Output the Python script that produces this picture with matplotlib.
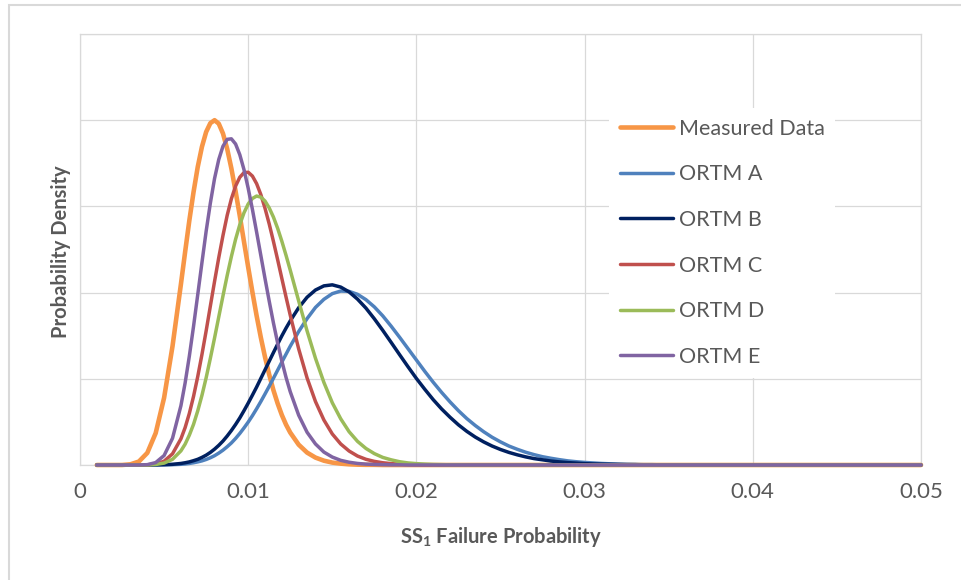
import matplotlib
matplotlib.use("Agg")
import matplotlib.pyplot as plt
from matplotlib.patches import Rectangle

plt.rcParams['font.family'] = ['Lato', 'DejaVu Sans']
plt.rcParams['mathtext.fontset'] = 'custom'
plt.rcParams['mathtext.rm'] = 'Lato'
plt.rcParams['mathtext.bf'] = 'Lato:bold'

# Failure probability grid shared by every series (finer around the peaks)
x = [0.0010, 0.0015, 0.0020, 0.0025, 0.0030, 0.0035, 0.0040, 0.0045, 0.0050, 0.0055, 0.0060,
     0.00625, 0.00650, 0.00675, 0.00700, 0.00725, 0.00750, 0.00775, 0.00800, 0.00825, 0.00850, 0.00875, 0.00900, 0.00925,
     0.00950, 0.00975, 0.01000, 0.01025, 0.01050, 0.01075, 0.01100, 0.01125, 0.01150, 0.01175, 0.01200, 0.01225, 0.01250,
     0.0130, 0.0135, 0.0140, 0.0145, 0.0150, 0.0155, 0.0160, 0.0165, 0.0170, 0.0175,
     0.0180, 0.0185, 0.0190, 0.0195, 0.0200, 0.0205, 0.0210, 0.0215, 0.0220, 0.0225,
     0.0230, 0.0235, 0.0240, 0.0245, 0.0250, 0.0255, 0.0260, 0.0265, 0.0270, 0.0275,
     0.0280, 0.0285, 0.0290, 0.0295, 0.0300, 0.0305, 0.0310, 0.0315, 0.0320, 0.0325,
     0.0330, 0.0335, 0.0340, 0.0345, 0.0350, 0.0355, 0.0360, 0.0365, 0.0370, 0.0375,
     0.0380, 0.0385, 0.0390, 0.0395, 0.0400, 0.0405, 0.0410, 0.0415, 0.0420, 0.0425,
     0.0430, 0.0435, 0.0440, 0.0445, 0.0450, 0.0455, 0.0460, 0.0465, 0.0470, 0.0475,
     0.0480, 0.0485, 0.0490, 0.0495, 0.0500]

measured = [0, 0, 0, 0, 0.4, 2.0, 7.0, 18.5, 39.0, 68.9, 104.9,
            123.6, 141.8, 158.3, 172.9, 184.6, 193.2, 198.3, 200.0, 198.0, 192.3, 183.4, 172.0, 158.8,
            144.5, 129.5, 114.7, 100.3, 86.6, 74.0, 62.6, 52.4, 43.4, 35.7, 29.0, 23.4, 18.8,
            11.8, 7.2, 4.3, 2.5, 1.4, 0.8, 0.4, 0.2, 0.1, 0.1,
            0, 0, 0, 0, 0, 0, 0, 0, 0, 0,
            0, 0, 0, 0, 0, 0, 0, 0, 0, 0,
            0, 0, 0, 0, 0, 0, 0, 0, 0, 0,
            0, 0, 0, 0, 0, 0, 0, 0, 0, 0,
            0, 0, 0, 0, 0, 0, 0, 0, 0, 0,
            0, 0, 0, 0, 0, 0, 0, 0, 0, 0,
            0, 0, 0, 0, 0]

ortm_a = [0, 0, 0, 0, 0, 0, 0, 0, 0.1, 0.2, 0.4,
          0.6, 0.9, 1.3, 1.8, 2.4, 3.2, 4.2, 5.4, 6.9, 8.6, 10.6, 12.8, 15.4,
          18.3, 21.5, 24.9, 28.6, 32.6, 36.8, 41.2, 45.7, 50.3, 55.0, 59.7, 64.3, 68.9,
          77.4, 84.9, 91.4, 96.1, 99.4, 100.9, 100.7, 99.0, 95.9, 91.7,
          86.5, 80.5, 74.1, 67.5, 60.9, 54.3, 48.0, 42.1, 36.6, 31.5,
          26.9, 22.9, 19.3, 16.1, 13.4, 11.0, 9.1, 7.4, 6.0, 4.8,
          3.9, 3.1, 2.4, 1.9, 1.5, 1.2, 0.9, 0.7, 0.5, 0.4,
          0.3, 0.2, 0.2, 0.1, 0.1, 0.1, 0, 0, 0, 0,
          0, 0, 0, 0, 0, 0, 0, 0, 0, 0,
          0, 0, 0, 0, 0, 0, 0, 0, 0, 0,
          0, 0, 0, 0, 0]

ortm_b = [0, 0, 0, 0, 0, 0, 0, 0.1, 0.2, 0.4, 0.9,
          1.3, 1.8, 2.5, 3.3, 4.4, 5.7, 7.3, 9.2, 11.4, 13.9, 16.8, 20.0, 23.5,
          27.3, 31.5, 35.9, 40.5, 45.2, 50.2, 55.2, 60.2, 65.2, 70.1, 74.9, 79.4, 83.6,
          91.2, 97.3, 101.5, 103.9, 104.5, 103.2, 100.4, 96.2, 91.0, 84.8,
          78.1, 71.1, 64.0, 57.0, 50.2, 43.9, 37.9, 32.5, 27.7, 23.3,
          19.5, 16.2, 13.4, 11.0, 9.0, 7.3, 5.9, 4.7, 3.7, 3.0,
          2.3, 1.8, 1.4, 1.1, 0.8, 0.6, 0.5, 0.4, 0.3, 0.2,
          0.2, 0.1, 0.1, 0, 0, 0, 0, 0, 0, 0,
          0, 0, 0, 0, 0, 0, 0, 0, 0, 0,
          0, 0, 0, 0, 0, 0, 0, 0, 0, 0,
          0, 0, 0, 0, 0]

ortm_c = [0, 0, 0, 0, 0, 0, 0.1, 0.6, 2.2, 6.5, 15.2,
          21.7, 29.9, 39.8, 51.3, 64.1, 77.8, 92.2, 106.5, 120.3, 133.1, 144.8, 154.4, 161.8,
          166.9, 169.6, 169.8, 167.6, 163.2, 156.9, 148.9, 139.8, 129.7, 119.1, 108.2, 97.4, 86.9,
          67.4, 50.5, 36.8, 26.1, 18.0, 12.2, 8.1, 5.2, 3.3, 2.1,
          1.3, 0.8, 0.5, 0.3, 0.2, 0.1, 0.1, 0, 0, 0,
          0, 0, 0, 0, 0, 0, 0, 0, 0, 0,
          0, 0, 0, 0, 0, 0, 0, 0, 0, 0,
          0, 0, 0, 0, 0, 0, 0, 0, 0, 0,
          0, 0, 0, 0, 0, 0, 0, 0, 0, 0,
          0, 0, 0, 0, 0, 0, 0, 0, 0, 0,
          0, 0, 0, 0, 0]

ortm_d = [0, 0, 0, 0, 0, 0, 0, 0.3, 1.1, 3.3, 8.2,
          12.1, 17.3, 23.6, 31.4, 40.4, 50.6, 61.9, 73.7, 85.9, 98.1, 109.9, 120.9, 130.9,
          139.4, 146.3, 151.4, 154.6, 156.0, 155.4, 153.1, 149.1, 143.8, 137.3, 129.8, 121.6, 113.0,
          95.2, 77.8, 61.9, 47.9, 36.1, 26.8, 19.3, 13.7, 9.6, 6.6,
          4.4, 3.0, 1.9, 1.2, 0.8, 0.5, 0.3, 0.2, 0.1, 0.1,
          0, 0, 0, 0, 0, 0, 0, 0, 0, 0,
          0, 0, 0, 0, 0, 0, 0, 0, 0, 0,
          0, 0, 0, 0, 0, 0, 0, 0, 0, 0,
          0, 0, 0, 0, 0, 0, 0, 0, 0, 0,
          0, 0, 0, 0, 0, 0, 0, 0, 0, 0,
          0, 0, 0, 0, 0]

ortm_e = [0, 0, 0, 0, 0, 0, 0.2, 1.4, 5.5, 15.5, 34.4,
          47.6, 63.1, 80.4, 98.8, 117.4, 135.6, 151.9, 166.2, 177.2, 184.9, 188.9, 189.2, 186.2,
          180.0, 171.3, 160.5, 148.3, 135.1, 121.6, 108.1, 95.0, 82.4, 70.8, 60.3, 50.8, 42.5,
          28.9, 19.0, 12.2, 7.5, 4.6, 2.7, 1.6, 0.9, 0.5, 0.3,
          0.2, 0.1, 0.1, 0, 0, 0, 0, 0, 0, 0,
          0, 0, 0, 0, 0, 0, 0, 0, 0, 0,
          0, 0, 0, 0, 0, 0, 0, 0, 0, 0,
          0, 0, 0, 0, 0, 0, 0, 0, 0, 0,
          0, 0, 0, 0, 0, 0, 0, 0, 0, 0,
          0, 0, 0, 0, 0, 0, 0, 0, 0, 0,
          0, 0, 0, 0, 0]

series_names = ["Measured Data", "ORTM A", "ORTM B", "ORTM C", "ORTM D", "ORTM E"]
series_values = [measured, ortm_a, ortm_b, ortm_c, ortm_d, ortm_e]
series_colors = ["#F79646", "#4F81BD", "#002060", "#C0504D", "#9BBB59", "#8064A2"]
series_widths = [3.3, 2.5, 2.5, 2.5, 2.5, 2.5]

x_ticks = [0, 0.01, 0.02, 0.03, 0.04, 0.05]
x_tick_labels = ["0", "0.01", "0.02", "0.03", "0.04", "0.05"]
y_grid = [0, 50, 100, 150, 200, 250]

W, H = 962, 580
fig = plt.figure(figsize=(W / 100, H / 100), dpi=100)
fig.patch.set_facecolor("white")

# light outer chart border
fig.add_artist(Rectangle((9 / W, -0.05), 1.2, 1 - 5 / H + 0.05,
                         transform=fig.transFigure, fill=False,
                         edgecolor="#d9d9d9", linewidth=1.5))

ax_l, ax_r, ax_t, ax_b = 80, 921, 34, 465
ax = fig.add_axes([ax_l / W, 1 - ax_b / H, (ax_r - ax_l) / W, (ax_b - ax_t) / H])
ax.set_xlim(0, 0.05)
ax.set_ylim(0, 250)

for name, vals, col, lw in zip(series_names, series_values, series_colors, series_widths):
    ax.plot(x, vals, color=col, linewidth=lw, label=name,
            solid_capstyle="round", solid_joinstyle="round", clip_on=False, zorder=3)

ax.set_xticks(x_ticks)
ax.set_xticklabels(x_tick_labels)
ax.set_yticks(y_grid)
ax.set_yticklabels([])
ax.tick_params(axis="both", length=0, colors="#595959")
ax.tick_params(axis="x", labelsize=16, pad=12)
ax.tick_params(axis="y", pad=0)
ax.grid(True, color="#d9d9d9", linewidth=0.9)
ax.set_axisbelow(True)
for sp in ax.spines.values():
    sp.set_color("#d9d9d9")
    sp.set_linewidth(0.9)

ax.set_xlabel(r"SS$_\mathregular{1}$ Failure Probability", fontsize=14.5,
              fontweight="bold", color="#595959")
ax.xaxis.set_label_coords(0.5, -(525 - ax_b) / (ax_b - ax_t))
ax.set_ylabel("Probability Density", fontsize=14.5, fontweight="bold",
              color="#595959")
ax.yaxis.set_label_coords(-(ax_l - 71) / (ax_r - ax_l), (ax_b - 252) / (ax_b - ax_t))

leg = ax.legend(loc="upper left", bbox_to_anchor=(609 / W, 1 - 108 / H),
                bbox_transform=fig.transFigure, borderaxespad=0,
                frameon=True, fancybox=False, framealpha=1,
                facecolor="white", edgecolor="none",
                fontsize=15.5, handlelength=2.46, handletextpad=0.28,
                labelspacing=1.19, borderpad=0.5)
for t in leg.get_texts():
    t.set_color("#595959")

fig.savefig("out.png", dpi=100, facecolor="white")
